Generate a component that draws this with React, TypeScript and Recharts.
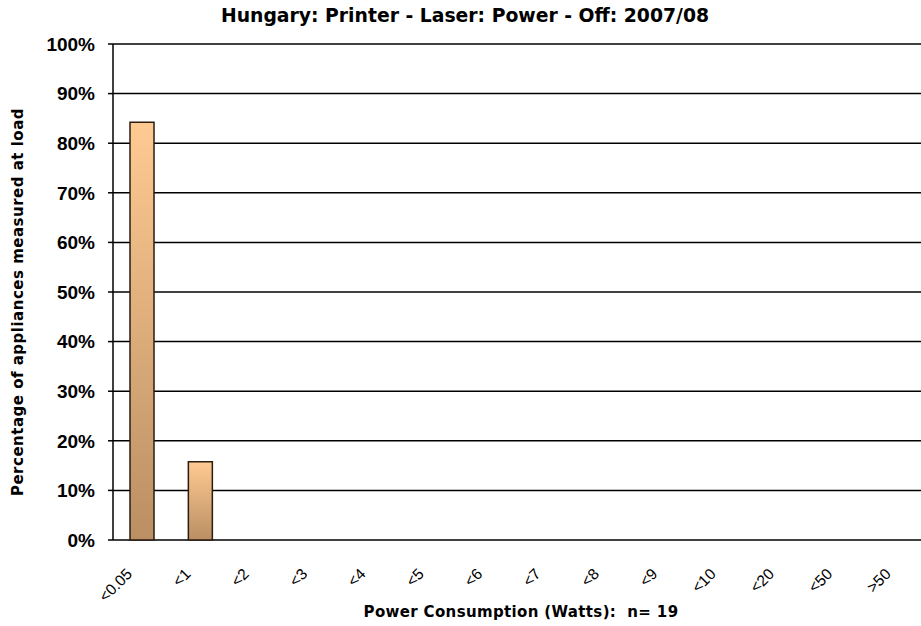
import React from "react";
import { BarChart, Bar, XAxis, YAxis, CartesianGrid } from "recharts";

const title = "Hungary: Printer - Laser: Power - Off: 2007/08";
const yAxisTitle = "Percentage of appliances measured at load";
const xAxisTitle = "Power Consumption (Watts):  n= 19";

const categories = ["<0.05", "<1", "<2", "<3", "<4", "<5", "<6", "<7", "<8", "<9", "<10", "<20", "<50", ">50"];
const shares = [0.842, 0.158, 0, 0, 0, 0, 0, 0, 0, 0, 0, 0, 0, 0];
const yTicks = [0, 0.1, 0.2, 0.3, 0.4, 0.5, 0.6, 0.7, 0.8, 0.9, 1];
const boundaryTicks = [...categories.map((_, i) => i), categories.length];

const data = categories.map((label, i) => ({ label, share: shares[i] }));

const pct = (v: number) => `${Math.round(v * 100)}%`;

const CatTick = (props: any) => {
  const { x, y, payload } = props;
  const px = x - 9;
  const py = y + 35;
  return (
    <text
      x={px}
      y={py}
      transform={`rotate(-45, ${px}, ${py})`}
      textAnchor="end"
      fontFamily="'Liberation Sans', Arial, sans-serif"
      fontSize={15.5}
      fill="#000"
    >
      {payload.value}
    </text>
  );
};

export default function App() {
  return (
    <div
      style={{
        position: "absolute",
        left: 0,
        top: 0,
        width: 921,
        height: 626,
        overflow: "hidden",
        background: "#fff",
      }}
    >
      <div
        style={{
          position: "absolute",
          left: 0,
          width: 930,
          top: 4,
          textAlign: "center",
          fontFamily: "'DejaVu Sans', sans-serif",
          fontWeight: "bold",
          fontSize: 18.8,
          lineHeight: "24px",
          color: "#000",
        }}
      >
        {title}
      </div>
      <div
        style={{
          position: "absolute",
          left: 18 - 250,
          top: 302 - 10,
          width: 500,
          height: 20,
          lineHeight: "20px",
          textAlign: "center",
          transform: "rotate(-90deg)",
          fontFamily: "'DejaVu Sans', sans-serif",
          fontWeight: "bold",
          fontSize: 15,
          letterSpacing: 0.5,
          color: "#000",
        }}
      >
        {yAxisTitle}
      </div>
      <div
        style={{
          position: "absolute",
          left: 521 - 250,
          top: 602,
          width: 500,
          textAlign: "center",
          fontFamily: "'DejaVu Sans', sans-serif",
          fontWeight: "bold",
          fontSize: 15,
          letterSpacing: 0.35,
          lineHeight: "20px",
          color: "#000",
          whiteSpace: "pre",
        }}
      >
        {xAxisTitle}
      </div>
      <div style={{ position: "absolute", left: 0, top: 0 }}>
        <BarChart
          width={930}
          height={626}
          data={data}
          margin={{ top: 44, right: 0, bottom: 0, left: 0 }}
          barSize={24}
        >
          <defs>
            <linearGradient id="barGrad" x1="0" y1="0" x2="0" y2="1">
              <stop offset="0%" stopColor="#FFCA92" />
              <stop offset="100%" stopColor="#BA8F63" />
            </linearGradient>
          </defs>
          <CartesianGrid vertical={false} stroke="#000" strokeWidth={1.5} />
          <XAxis
            xAxisId="bounds"
            type="number"
            domain={[0, categories.length]}
            ticks={boundaryTicks}
            allowDataOverflow
            tick={false}
            tickSize={7}
            height={0}
            axisLine={{ stroke: "#000", strokeWidth: 1.5 }}
            tickLine={{ stroke: "#000", strokeWidth: 1.5 }}
          />
          <XAxis
            xAxisId="cat"
            dataKey="label"
            height={86}
            interval={0}
            tickLine={false}
            axisLine={false}
            tickSize={0}
            tickMargin={0}
            tick={<CatTick />}
          />
          <YAxis
            width={113}
            domain={[0, 1]}
            ticks={yTicks}
            tickFormatter={pct}
            interval={0}
            tickSize={5}
            tickMargin={13}
            axisLine={{ stroke: "#000", strokeWidth: 1.5 }}
            tickLine={{ stroke: "#000", strokeWidth: 1.5 }}
            tick={{
              fill: "#000",
              fontFamily: "'Liberation Sans', Arial, sans-serif",
              fontWeight: "bold",
              fontSize: 19,
            }}
          />
          <Bar
            xAxisId="cat"
            dataKey="share"
            fill="url(#barGrad)"
            stroke="#2b1d12"
            strokeWidth={1.5}
            isAnimationActive={false}
          />
        </BarChart>
      </div>
    </div>
  );
}
